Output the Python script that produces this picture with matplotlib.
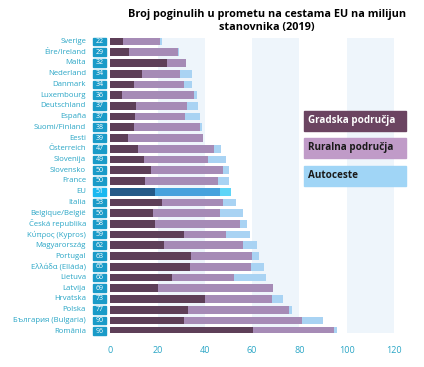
import matplotlib.pyplot as plt
from matplotlib.patches import Rectangle
from matplotlib.transforms import blended_transform_factory

plt.rcParams['font.family'] = ['Open Sans', 'DejaVu Sans']

countries = ['Sverige', 'Éire/Ireland', 'Malta', 'Nederland', 'Danmark', 'Luxembourg',
             'Deutschland', 'España', 'Suomi/Finland', 'Eesti', 'Österreich', 'Slovenija',
             'Slovensko', 'France', 'EU', 'Italia', 'Belgique/België', 'Česká republika',
             'Κύπρος (Kypros)', 'Magyarország', 'Portugal', 'Ελλάδα (Elláda)', 'Lietuva',
             'Latvija', 'Hrvatska', 'Polska', 'България (Bulgaria)', 'România']
totals = [22, 29, 32, 34, 34, 36, 37, 37, 38, 39, 47, 49, 50, 50, 51, 53, 56, 58, 59, 62,
          63, 65, 66, 69, 73, 77, 90, 96]
urban = [5.5, 8, 24, 13.5, 10, 5, 11, 10.5, 10, 7.5, 11.5, 14, 17, 14.5, 19, 22, 18, 19,
         31, 22.5, 34, 33.5, 26, 20, 40, 33, 31, 60.5]
rural = [15.5, 20.5, 8, 16, 21, 30.5, 21.5, 21, 28, 31.5, 32.5, 27.5, 30.5, 31, 27.5, 25.5,
         28.5, 36, 18, 33.5, 26, 26, 26.5, 49, 28.5, 42.5, 50, 34]
motorway = [1, 0.5, 0, 5, 3.5, 1, 4.5, 6.5, 0.8, 0, 3, 7.5, 2.5, 4.5, 4.5, 5.5, 9.5, 3, 10,
            6, 3, 5.5, 13.5, 0, 4.5, 1.5, 9, 1.5]
legend_labels = ['Gradska područja', 'Ruralna područja', 'Autoceste']
title = 'Broj poginulih u prometu na cestama EU na milijun\nstanovnika (2019)'

c_urban, c_rural, c_motor = '#5e3f58', '#a68bb6', '#a9d3f3'
c_urban_eu, c_rural_eu, c_motor_eu = '#245a88', '#47a2dd', '#5fd5f7'
teal = '#2aa6c6'

fig = plt.figure(figsize=(4.24, 3.67), dpi=100)
ax = fig.add_axes([0.2606, 0.0918, 0.668, 0.8038])

y = list(range(len(countries)))
for i in y:
    eu = countries[i] == 'EU'
    cu = c_urban_eu if eu else c_urban
    cr = c_rural_eu if eu else c_rural
    cm = c_motor_eu if eu else c_motor
    ax.barh(i, urban[i], height=0.72, color=cu, zorder=2)
    ax.barh(i, rural[i], left=urban[i], height=0.72, color=cr, zorder=2)
    ax.barh(i, motorway[i], left=urban[i] + rural[i], height=0.72, color=cm, zorder=2)

# light background bands
for x0 in [20, 60, 100]:
    ax.axvspan(x0, x0 + 20, color='#eef5fb', zorder=0, lw=0)

ax.set_xlim(0, 120)
ax.set_ylim(len(countries) - 1 + 0.2, -0.3)
ax.set_xticks([0, 20, 40, 60, 80, 100, 120])
ax.tick_params(axis='x', length=0, pad=9, labelsize=6.5, labelcolor=teal)
ax.set_yticks([])
for s in ax.spines.values():
    s.set_visible(False)

# country labels and number boxes
tr = blended_transform_factory(fig.transFigure, ax.transData)
for i, name in enumerate(countries):
    ax.text(86 / 424, i, name, transform=tr, ha='right', va='center',
            fontsize=5.6, color=teal, clip_on=False)
    box = '#1bb8f0' if name == 'EU' else '#1a9bc8'
    ax.add_patch(Rectangle((93 / 424, i - 0.36), 13 / 424, 0.72, transform=tr,
                           color=box, clip_on=False))
    ax.text(99.5 / 424, i, str(totals[i]), transform=tr, ha='center', va='center',
            fontsize=5, color='white', clip_on=False)

# legend boxes
leg_colors = ['#6b4461', '#c09bc8', '#a0d5f6']
leg_text = ['white', '#1a1a1a', '#1a1a1a']
leg_top = [110.7, 138, 166]
for lab, col, tc, top in zip(legend_labels, leg_colors, leg_text, leg_top):
    fig.patches.append(Rectangle((304 / 424, 1 - (top + 20) / 367), 102 / 424, 20 / 367,
                                 transform=fig.transFigure, color=col))
    fig.text(308 / 424, 1 - (top + 10) / 367, lab, ha='left', va='center',
             fontsize=7.1, fontweight='bold', color=tc)

fig.text(267 / 424, 1 - 21 / 367, title, ha='center', va='center', fontsize=7.8,
         fontweight='bold', color='black', linespacing=1.35)

fig.savefig('out.png', dpi=100)
